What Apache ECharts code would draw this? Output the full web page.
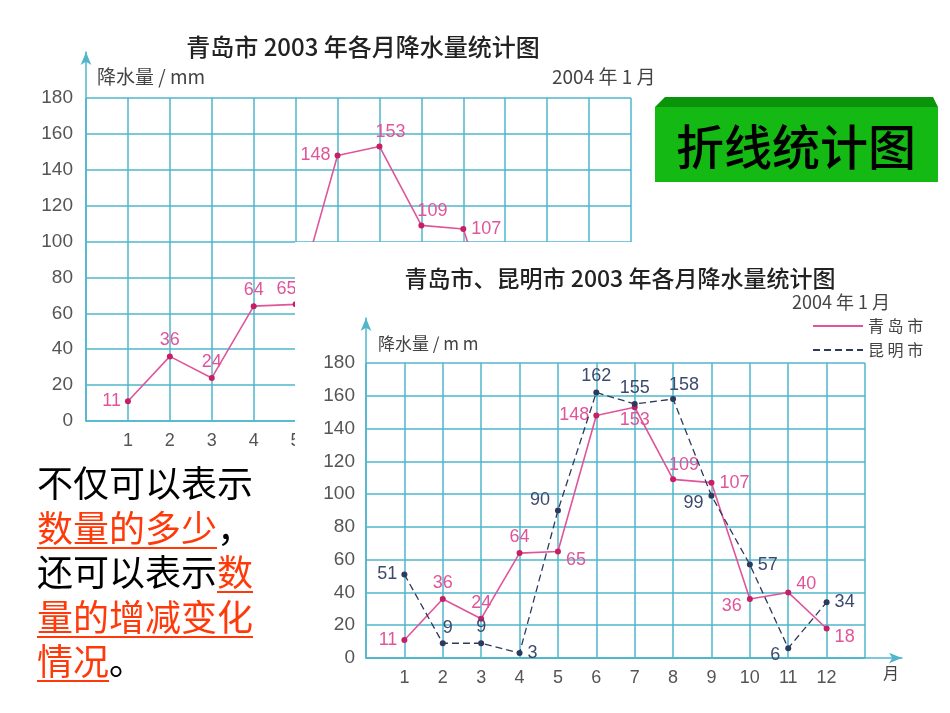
<!DOCTYPE html>
<html>
<head>
<meta charset="utf-8">
<title>折线统计图</title>
<script src="https://cdn.jsdelivr.net/npm/echarts@6/dist/echarts.min.js"></script>
<style>
  html, body { margin: 0; padding: 0; background: #fff; }
  #page { position: relative; width: 950px; height: 713px; overflow: hidden; }
  #chart1 { position: absolute; left: 0; top: 0; width: 950px; height: 713px; }
  #chart2 { position: absolute; left: 295px; top: 242px; width: 655px; height: 471px; background: #fff; }
  #note {
    position: absolute; left: 37px; top: 459px; width: 240px;
    font-family: "Noto Sans CJK SC", sans-serif; font-size: 36px; line-height: 44.5px; color: #000;
  }
  #note u { color: #ff3a0a; text-decoration-color: #ff3a0a; text-underline-offset: 5px; text-decoration-thickness: 2px; }
</style>
</head>
<body>
<div id="page">
  <div id="chart1"></div>
  <div id="chart2"></div>
  <div id="note">不仅可以表示<br><u>数量的多少</u>，<br>还可以表示<u>数</u><br><u>量的增减变化</u><br><u>情况</u>。</div>
</div>
<script>
// 月份
const months = [1, 2, 3, 4, 5, 6, 7, 8, 9, 10, 11, 12]
// 降水量 (mm)
const qingdao = [11, 36, 24, 64, 65, 148, 153, 109, 107, 36, 40, 18]
const kunming = [51, 9, 9, 3, 90, 162, 155, 158, 99, 57, 6, 34]

// where each value label sits next to its point
const qdPlace1 = ['left', 'top', 'top', 'top', 'tl', 'left', 'tr', 'tr', 'right', 'top', 'top', 'top']
const qdPlace2 = ['left', 'top', 'top', 'top', 'rb', 'left', 'bottom', 'tr', 'right', 'lb', 'rt', 'rb']
const kmPlace2 = ['left', 'tt', 'top', 'right', 'lt', 'top', 'top', 'tr', 'lb', 'right', 'lb', 'right']

const PLACE = {
  left: { position: 'left', distance: 4 },
  right: { position: 'right', distance: 5 },
  top: { position: 'top', distance: 4 },
  bottom: { position: 'bottom', distance: 1 },
  tr: { position: 'top', distance: 2, offset: [11, 0] },
  tl: { position: 'top', distance: 3, offset: [-9, 0] },
  tt: { position: 'top', distance: 3, offset: [5, 0] },
  rb: { position: 'right', offset: [0, 9] },
  rt: { position: 'right', offset: [0, -8] },
  lb: { position: 'left', offset: [0, 7] },
  lt: { position: 'left', offset: [0, -10] },
}

const GRID_COLOR = '#4fb6cc'
const PINK = '#e0559a'
const PINK_DOT = '#c71f63'
const NAVY = '#2d3a5e'
const NUM_FONT = 'Liberation Sans'
const CJK_FONT = 'Noto Sans CJK SC'

function points(values, places, color) {
  return months.map((m, i) => ({
    value: [m, values[i]],
    label: Object.assign({ color: color }, PLACE[places[i]]),
  }))
}

function monthAxis(gridIndex) {
  return {
    type: 'value', gridIndex, min: 0, max: 13, interval: 1,
    axisLine: { show: true, lineStyle: { color: GRID_COLOR, width: 1.5 } },
    axisTick: { show: false },
    axisLabel: {
      color: '#555', fontSize: 18, fontFamily: NUM_FONT, margin: 11,
      formatter: (v) => (v >= 1 && v <= 12 ? String(v) : ''),
    },
    splitLine: { show: true, lineStyle: { color: GRID_COLOR, width: 1.5 } },
  }
}

function valueAxis(gridIndex, margin) {
  return {
    type: 'value', gridIndex, min: 0, max: 180, interval: 20,
    axisLine: { show: false },
    axisTick: { show: false },
    axisLabel: { color: '#555', fontSize: 19, fontFamily: NUM_FONT, margin },
    splitLine: { show: true, lineStyle: { color: GRID_COLOR, width: 1.5 } },
  }
}

// an empty axis pair that only draws the arrowed axis lines
function arrowAxes(gridIndex, showX) {
  const arrowLine = { show: true, symbol: ['none', 'arrow'], symbolSize: [8, 13], lineStyle: { color: GRID_COLOR, width: 1.5 } }
  return {
    x: { type: 'value', gridIndex, min: 0, max: 1, show: showX, axisLine: arrowLine, axisTick: { show: false }, axisLabel: { show: false }, splitLine: { show: false } },
    y: { type: 'value', gridIndex, min: 0, max: 1, axisLine: arrowLine, axisTick: { show: false }, axisLabel: { show: false }, splitLine: { show: false } },
  }
}

function text(x, y, str, opts) {
  return {
    type: 'text', x, y, silent: true,
    style: Object.assign({ text: str, fill: '#333', fontSize: 17, fontFamily: CJK_FONT, align: 'left', verticalAlign: 'middle' }, opts || {}),
  }
}

const valueLabel = { show: true, fontSize: 18, fontFamily: NUM_FONT, formatter: (p) => p.value[1] }

// ---- 青岛市 chart (behind) ----
const chart1 = echarts.init(document.getElementById('chart1'))
const arrows1 = arrowAxes(1, false)
chart1.setOption({
  animation: false,
  grid: [
    { left: 86, top: 98, width: 545, height: 323 },
    { left: 86, top: 52, width: 545, height: 369 },
  ],
  xAxis: [monthAxis(0), arrows1.x],
  yAxis: [valueAxis(0, 13), arrows1.y],
  series: [{
    name: '青岛市', type: 'line', xAxisIndex: 0, yAxisIndex: 0,
    data: points(qingdao, qdPlace1, PINK),
    symbol: 'circle', symbolSize: 6,
    lineStyle: { color: PINK, width: 1.6 },
    itemStyle: { color: PINK_DOT },
    label: valueLabel,
  }],
  graphic: [
    text(363, 47, '青岛市 2003 年各月降水量统计图', { align: 'center', fontSize: 24, fontWeight: 500, fill: '#222' }),
    text(97, 77, '降水量 / mm', { fontSize: 19, fill: '#444' }),
    text(552, 77, '2004 年 1 月', { fontSize: 19, fill: '#444' }),
    { type: 'polygon', silent: true, shape: { points: [[665, 97], [933, 97], [938, 107], [655, 107]] }, style: { fill: '#0a940a' } },
    { type: 'rect', silent: true, shape: { x: 655, y: 107, width: 283, height: 75 }, style: { fill: '#14b914' } },
    text(796, 147, '折线统计图', { align: 'center', fontSize: 48, fontWeight: 500, fill: '#000' }),
  ],
})

// ---- 青岛市、昆明市 chart (front) ----
const chart2 = echarts.init(document.getElementById('chart2'))
const arrows2 = arrowAxes(1, true)
chart2.setOption({
  animation: false,
  grid: [
    { left: 71, top: 121, width: 499, height: 295 },
    { left: 71, top: 76, width: 536, height: 340 },
  ],
  legend: {
    orient: 'vertical', left: 512, top: 71, itemWidth: 50, itemHeight: 12, itemGap: 8,
    itemStyle: { opacity: 0 },
    formatter: (name) => name.split('').join(' '),
    textStyle: { color: '#444', fontSize: 16, fontFamily: CJK_FONT },
    data: ['青岛市', '昆明市'],
  },
  xAxis: [monthAxis(0), arrows2.x],
  yAxis: [valueAxis(0, 11), arrows2.y],
  series: [
    {
      name: '青岛市', type: 'line', xAxisIndex: 0, yAxisIndex: 0, z: 3,
      data: points(qingdao, qdPlace2, PINK),
      symbol: 'circle', symbolSize: 6,
      lineStyle: { color: PINK, width: 1.6 },
      itemStyle: { color: PINK_DOT },
      label: valueLabel,
    },
    {
      name: '昆明市', type: 'line', xAxisIndex: 0, yAxisIndex: 0, z: 4,
      data: points(kunming, kmPlace2, '#3d4a6e'),
      symbol: 'circle', symbolSize: 6,
      lineStyle: { color: NAVY, width: 1.3, type: [7, 4] },
      itemStyle: { color: NAVY },
      label: valueLabel,
    },
  ],
  graphic: [
    text(325, 36, '青岛市、昆明市 2003 年各月降水量统计图', { align: 'center', fontSize: 23, fontWeight: 500, fill: '#222' }),
    text(497, 60, '2004 年 1 月', { fontSize: 18, fill: '#444' }),
    text(83, 102, '降水量 / m m', { fontSize: 17, fill: '#444' }),
    text(588, 431, '月', { fontSize: 16, fill: '#444' }),
  ],
})
</script>
</body>
</html>
